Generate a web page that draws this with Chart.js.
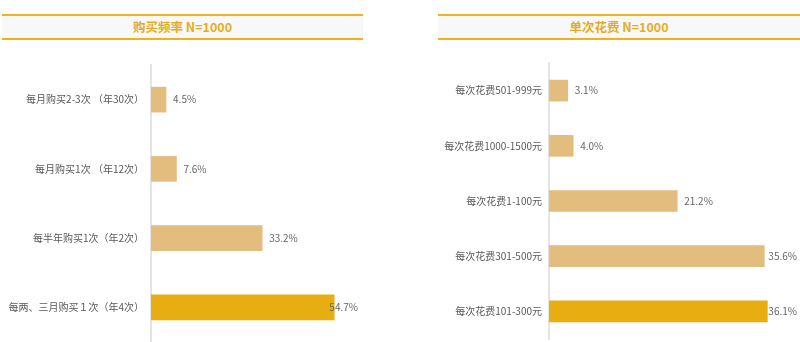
<!DOCTYPE html>
<html><head><meta charset="utf-8">
<script src="https://cdn.jsdelivr.net/npm/chart.js@4/dist/chart.umd.min.js"></script>
<style>
html,body{margin:0;padding:0;background:#fff;width:800px;height:342px;overflow:hidden;font-family:"Noto Sans CJK SC","Noto Sans",sans-serif;}
.band{position:absolute;height:22px;border-top:2px solid #f0b21e;border-bottom:2px solid #efb21d;background:#f8f8f8;color:#e5ad1e;font-weight:bold;font-size:12.5px;line-height:22px;text-align:center;}
.wrap{position:absolute;top:0;height:342px;}
canvas{display:block;}
</style></head><body>
<div class="band" style="left:2px;top:14px;width:361px;">购买频率 N=1000</div>
<div class="band" style="left:438px;top:14px;width:362px;">单次花费 N=1000</div>
<div class="wrap" style="left:0;width:365px;"><canvas id="c1"></canvas></div>
<div class="wrap" style="left:400px;width:400px;"><canvas id="c2"></canvas></div>
<script>
const freqCategories = ["每月购买2-3次 （年30次）","每月购买1次 （年12次）","每半年购买1次（年2次）","每两、三月购买１次（年4次）"];
const freqValues = [4.5, 7.6, 33.2, 54.7];
const spendCategories = ["每次花费501-999元","每次花费1000-1500元","每次花费1-100元","每次花费301-500元","每次花费101-300元"];
const spendValues = [3.1, 4.0, 21.2, 35.6, 36.1];

const TAN = "#e3bd7e", GOLD = "#e7ad11";
const FONT = '"Noto Sans CJK SC","Noto Sans",sans-serif';

const valueLabels = {
  id: 'valueLabels',
  afterDatasetsDraw(chart, args, opts) {
    const ctx = chart.ctx;
    const meta = chart.getDatasetMeta(0);
    ctx.save();
    ctx.font = '10px ' + FONT;
    ctx.fillStyle = '#666';
    ctx.textBaseline = 'middle';
    meta.data.forEach((bar, i) => {
      const txt = chart.data.datasets[0].data[i].toFixed(1) + '%';
      const w = ctx.measureText(txt).width;
      let x = bar.x + 7;
      if (x + w > opts.limit) x = opts.limit - w;
      ctx.fillText(txt, x, bar.y);
    });
    ctx.restore();
  }
};

function makeChart(id, cats, vals, cfg) {
  return new Chart(document.getElementById(id), {
    type: 'bar',
    data: {
      labels: cats,
      datasets: [{
        data: vals,
        backgroundColor: vals.map((v, i) => i === vals.length - 1 ? GOLD : TAN),
        borderWidth: 0,
        barThickness: cfg.thick
      }]
    },
    options: {
      indexAxis: 'y',
      responsive: false,
      animation: false,
      maintainAspectRatio: false,
      layout: { padding: cfg.pad },
      plugins: { legend: { display: false }, tooltip: { enabled: false }, valueLabels: { limit: cfg.limit } },
      scales: {
        x: { display: false, min: 0, max: cfg.max },
        y: {
          grid: { display: false, drawTicks: false },
          border: { display: true, color: '#e4e4e4', width: 2 },
          ticks: { color: '#595959', font: { family: FONT, size: 10 }, padding: cfg.tickPad },
          afterFit(scale) { scale.width = cfg.yw; scale.paddingTop = 0; scale.paddingBottom = 0; }
        }
      }
    },
    plugins: [valueLabels]
  });
}

const c1 = document.getElementById('c1'); c1.width = 365; c1.height = 342;
const c2 = document.getElementById('c2'); c2.width = 400; c2.height = 342;
makeChart('c1', freqCategories, freqValues, { thick: 25, pad: { top: 65, bottom: 0, right: 3, left: 0 }, max: 63, yw: 151, tickPad: 7, limit: 358 });
makeChart('c2', spendCategories, spendValues, { thick: 21, pad: { top: 63, bottom: 3, right: 0, left: 0 }, max: 41.5, yw: 149, tickPad: 7, limit: 397 });
</script>
</body></html>
